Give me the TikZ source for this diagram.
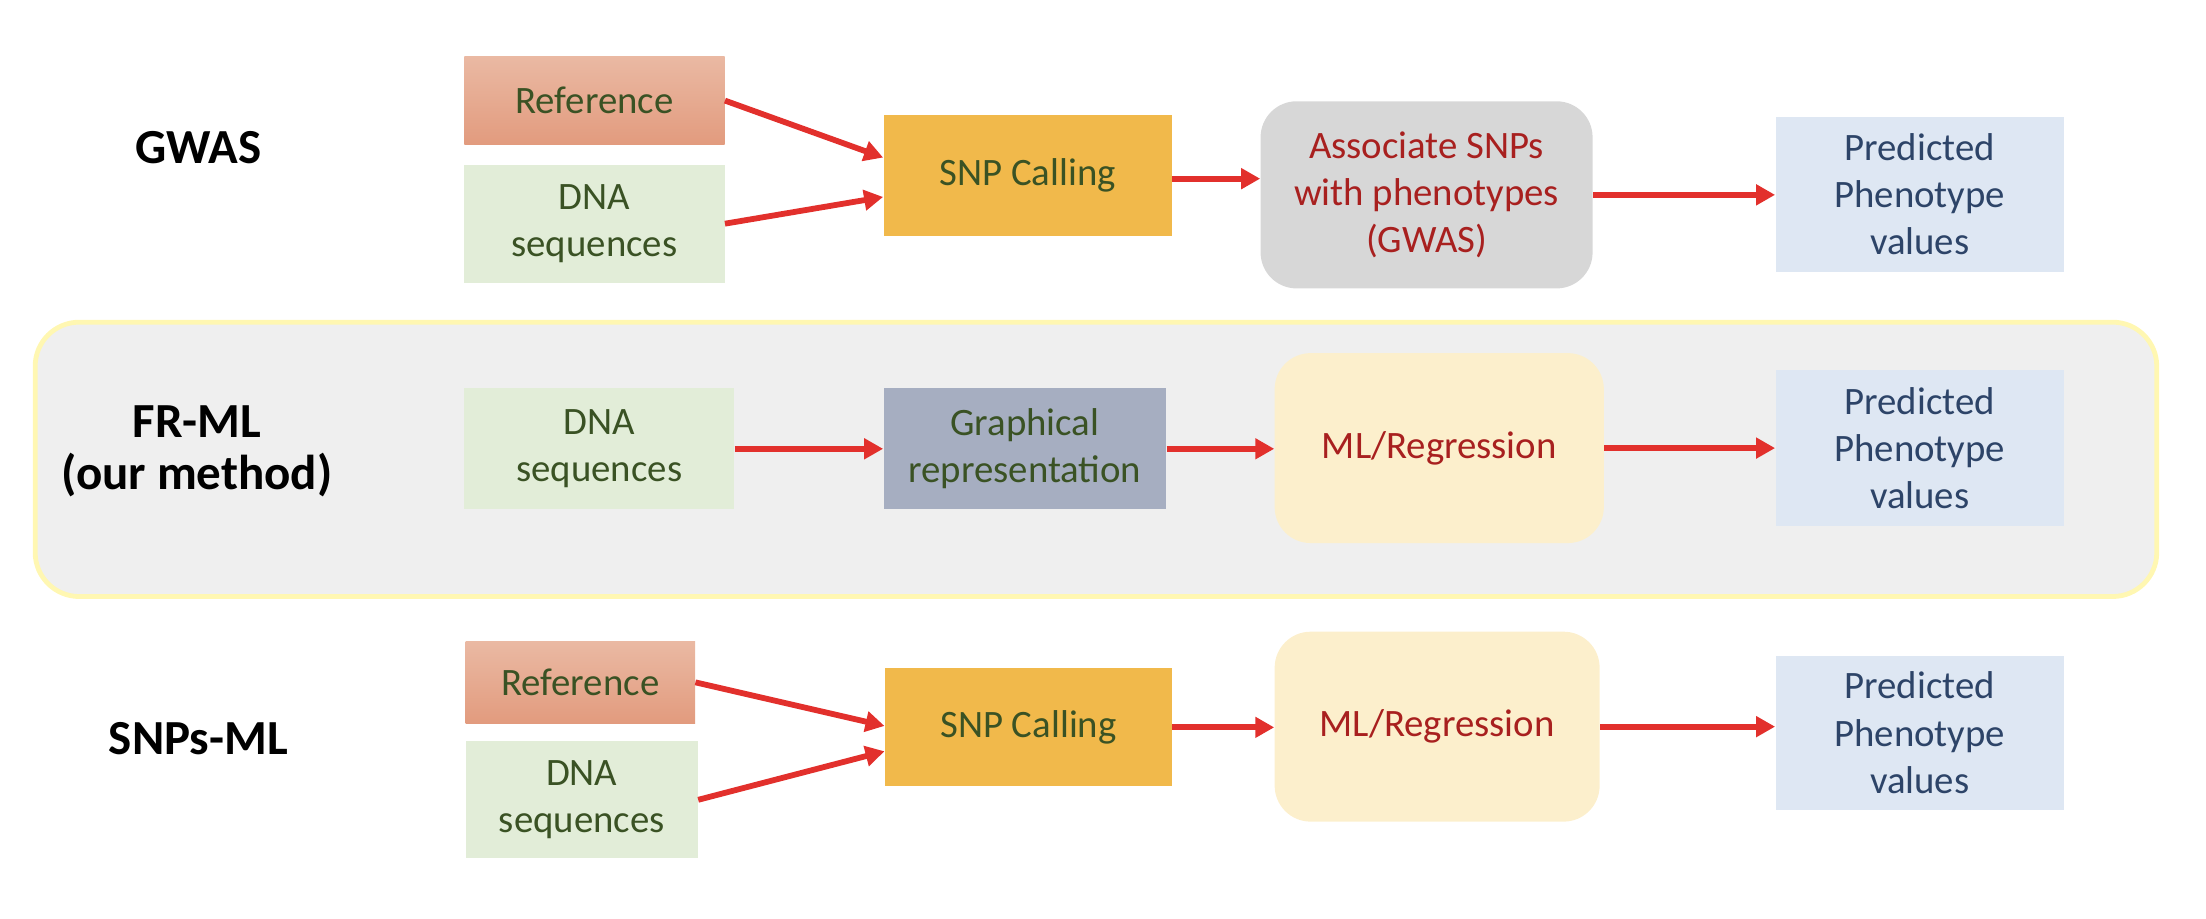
\documentclass[tikz,border=0pt]{standalone}
\usepackage{fontspec}
\setmainfont{Carlito}
\usetikzlibrary{arrows.meta,calc}
\def\uu{0.7035pt}
\definecolor{refTop}{HTML}{EAB9A3}
\definecolor{refBot}{HTML}{E29B7E}
\definecolor{dnaFill}{HTML}{E2EDD8}
\definecolor{snpFill}{HTML}{F1B94B}
\definecolor{assocFill}{HTML}{D7D7D7}
\definecolor{predFill}{HTML}{DEE7F3}
\definecolor{graphFill}{HTML}{A6AEC1}
\definecolor{mlFill}{HTML}{FCEFCC}
\definecolor{bgFill}{HTML}{EFEFEF}
\definecolor{bgEdge}{HTML}{FFF7B2}
\definecolor{txtGreen}{HTML}{3A5224}
\definecolor{txtRed}{HTML}{A8201F}
\definecolor{txtBlue}{HTML}{2D4468}
\definecolor{arrRed}{HTML}{E2302C}
\begin{document}
\begin{tikzpicture}[x=\uu,y=-\uu,
  box/.style={rectangle, inner sep=0pt, align=center, draw=none,
    font=\fontsize{19.4}{23.7}\selectfont},
  sz/.style 2 args={minimum width=#1*\uu, minimum height=#2*\uu},
  refbox/.style={box, top color=refTop, bottom color=refBot, text=txtGreen},
  dnabox/.style={box, fill=dnaFill, text=txtGreen},
  snpbox/.style={box, fill=snpFill, text=txtGreen},
  graphbox/.style={box, fill=graphFill, text=txtGreen},
  assocbox/.style={box, fill=assocFill, text=txtRed, rounded corners=18pt},
  mlbox/.style={box, fill=mlFill, text=txtRed, rounded corners=18pt},
  predbox/.style={box, fill=predFill, text=txtBlue},
  rowlabel/.style={inner sep=0pt, align=center, text=black,
    font=\fontsize{24.5}{26}\selectfont\bfseries},
  flow/.style={draw=arrRed, line width=2.9pt,
    -{Triangle[length=9.5pt,width=10pt]}}
]
\useasboundingbox (0,0) rectangle (1568,653);

% background panel of the FR-ML row
\draw[fill=bgFill, draw=bgEdge, line width=2.4pt, rounded corners=22pt]
  (25,229) rectangle (1533,424);

% ---- GWAS row
\node[rowlabel] (lgwas) at (141,105) {GWAS};
\node[refbox, sz={185}{63}] (refA) at (422.5,71.5) {Reference};
\node[dnabox, sz={185}{84}] (dnaA) at (422.5,159) {DNA\\sequences};
\node[snpbox, sz={205}{86}] (snpA) at (730.5,125) {SNP Calling};
\node[assocbox, sz={236}{133}] (assoc) at (1014,138.5) {Associate SNPs\\with phenotypes\\(GWAS)};
\node[predbox, sz={205}{110}] (predA) at (1364.5,138) {Predicted\\Phenotype\\values};

\coordinate (sa) at ($(snpA.east)+(0,2)$);
\draw[flow] (refA.east) -- ($(snpA.west)+(0,-13)$);
\draw[flow] (dnaA.east) -- ($(snpA.west)+(0,15)$);
\draw[flow] (sa) -- (sa -| assoc.west);
\draw[flow] (assoc.east) -- (assoc.east -| predA.west);

% ---- FR-ML row
\node[rowlabel] (lfr) at (140,321) {FR-ML\\(our method)};
\node[dnabox, sz={192}{86}] (dnaB) at (426,319) {DNA\\sequences};
\node[graphbox, sz={201}{86}] (graph) at (728.5,319) {Graphical\\representation};
\node[mlbox, sz={234}{135}] (mlB) at (1023,318.5) {ML/Regression};
\node[predbox, sz={205}{111}] (predB) at (1364.5,318.5) {Predicted\\Phenotype\\values};

\draw[flow] (dnaB.east) -- (graph.west);
\draw[flow] (graph.east) -- (graph.east -| mlB.west);
\draw[flow] (mlB.east) -- (mlB.east -| predB.west);

% ---- SNPs-ML row
\node[rowlabel] (lsnp) at (141,525) {SNPs-ML};
\node[refbox, sz={163}{58}] (refC) at (412.5,485) {Reference};
\node[dnabox, sz={165}{83}] (dnaC) at (413.5,568.5) {DNA\\sequences};
\node[snpbox, sz={204}{84}] (snpC) at (731,517) {SNP Calling};
\node[mlbox, sz={231}{135}] (mlC) at (1021.5,516.5) {ML/Regression};
\node[predbox, sz={205}{110}] (predC) at (1364.5,521) {Predicted\\Phenotype\\values};

\draw[flow] (refC.east) -- ($(snpC.west)+(0,-1)$);
\draw[flow] (dnaC.east) -- ($(snpC.west)+(0,17)$);
\draw[flow] (snpC.east) -- (snpC.east -| mlC.west);
\draw[flow] (mlC.east) -- (mlC.east -| predC.west);
\end{tikzpicture}
\end{document}
